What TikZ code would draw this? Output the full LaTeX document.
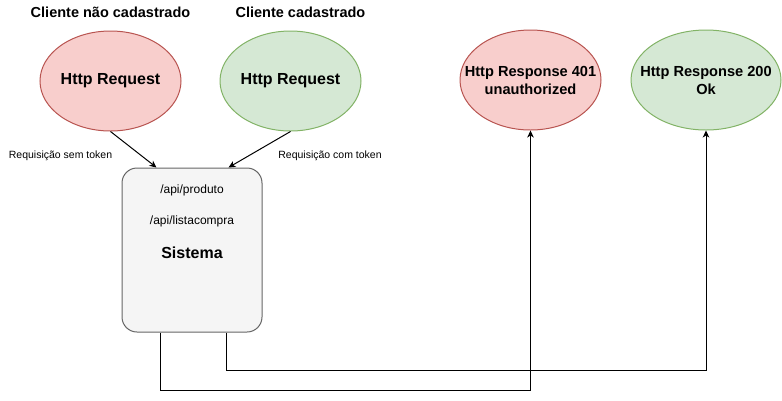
\documentclass[tikz,border=0pt]{standalone}
\usepackage{fontspec}
\setmainfont{Liberation Sans}
\usetikzlibrary{arrows.meta,positioning,shapes.geometric}
\definecolor{redfill}{HTML}{F8CECC}
\definecolor{redline}{HTML}{B85450}
\definecolor{greenfill}{HTML}{D5E8D4}
\definecolor{greenline}{HTML}{82B366}
\definecolor{boxfill}{HTML}{F5F5F5}
\definecolor{boxline}{HTML}{666666}
\tikzset{
  call/.style={ellipse,draw,line width=1pt,inner sep=0pt,minimum height=100pt,align=center},
  bad/.style={call,fill=redfill,draw=redline},
  good/.style={call,fill=greenfill,draw=greenline},
  title/.style={font=\fontsize{14.5}{17}\selectfont\bfseries},
  small/.style={font=\fontsize{10.5}{12}\selectfont},
  route/.style={font=\fontsize{12}{14}\selectfont},
  answer/.style={label={[font=\fontsize{14.6}{18}\selectfont\bfseries,align=center]center:#1}},
  conn/.style={line width=1pt,-{Stealth[length=7pt,width=6.5pt,inset=2pt]}}
}
\begin{document}
\begin{tikzpicture}[x=1pt,y=-1pt,line cap=butt,line join=miter]
  \useasboundingbox (0,0) rectangle (782,400);

  % clients
  \node[title] (t1) at (110.5,12) {Cliente não cadastrado};
  \node[title] (t2) at (300.5,12) {Cliente cadastrado};
  \node[bad,minimum width=141pt,font=\fontsize{16}{19}\selectfont\bfseries] (req1) at (110.5,81) {Http Request};
  \node[good,minimum width=141pt,font=\fontsize{16}{19}\selectfont\bfseries] (req2) at (290.5,81) {Http Request};

  % system
  \node[draw=boxline,fill=boxfill,line width=1pt,rounded corners=15pt,
        minimum width=140pt,minimum height=164pt] (sis) at (192,250) {};
  \node[route] (p1) at (192,190) {/api/produto};
  \node[route] (p2) at (192,221) {/api/listacompra};
  \node[font=\fontsize{16}{19}\selectfont\bfseries] (p3) at (192,253) {Sistema};

  % responses
  \node[bad,minimum width=141pt,answer={Http Response 401\\unauthorized}] (res1) at (530.5,80) {};
  \node[good,minimum width=150pt,answer={Http Response 200\\Ok}] (res2) at (706,80) {};

  % requests
  \draw[conn] (req1.south) -- ([xshift=35pt]sis.north west);
  \draw[conn] (req2.south) -- ([xshift=-34pt]sis.north east);
  \node[small] (l1) at (60.5,156) {Requisição sem token};
  \node[small] (l2) at (330,156) {Requisição com token};

  % answers
  \draw[conn] ([xshift=39pt]sis.south west) -- ++(0,58) -| (res1.south);
  \draw[conn] ([xshift=105pt]sis.south west) -- ++(0,38) -| (res2.south);
\end{tikzpicture}
\end{document}
